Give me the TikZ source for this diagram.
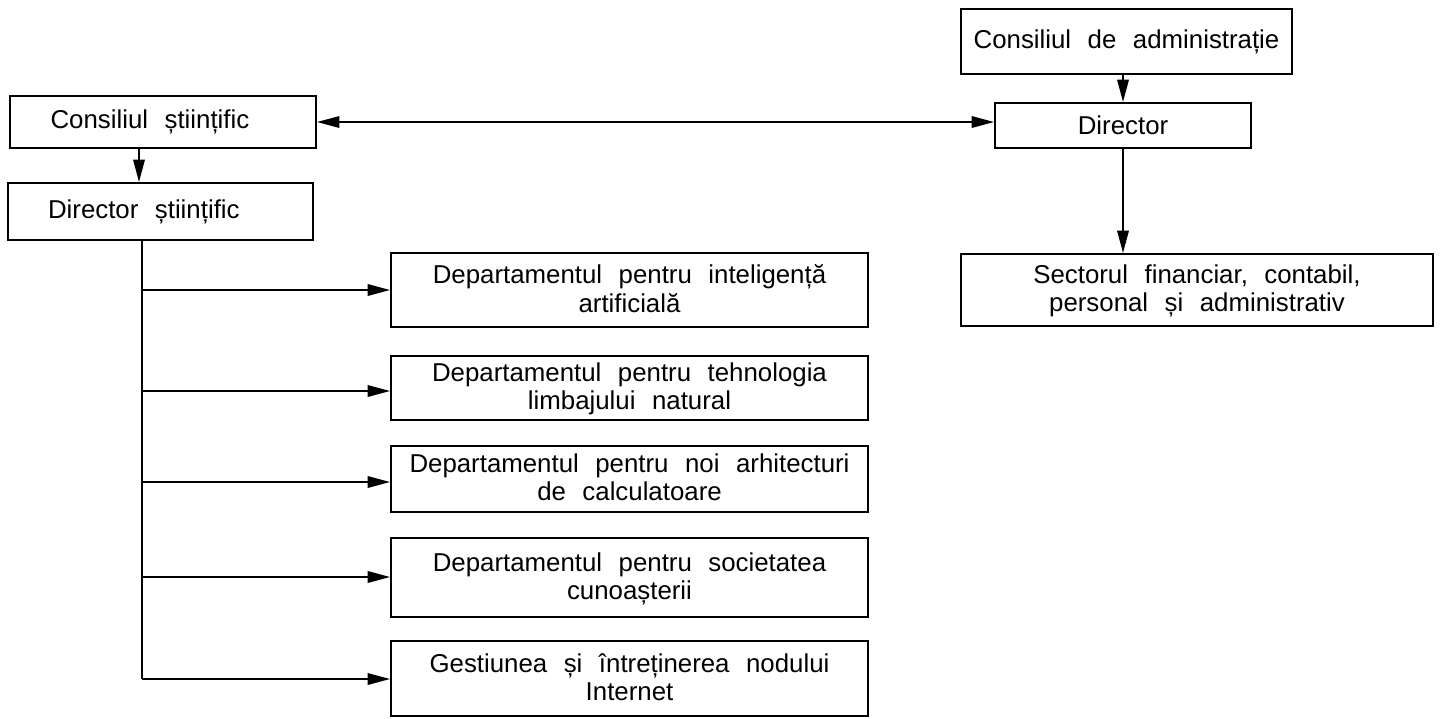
\documentclass[tikz,border=0pt]{standalone}
\usepackage{fontspec}
\setmainfont{Liberation Sans}[WordSpace=2.3]
\usetikzlibrary{arrows.meta}
\begin{document}
\begin{tikzpicture}[
        x=0.02cm, y=-0.02cm,
        box/.style={rectangle, draw=black, fill=white, line width=1.1pt, inner sep=2pt, align=center, font=\fontsize{14.7}{16}\selectfont},
        leftbox/.style={box, align=flush left, inner xsep=0.8cm, text width=4.5cm},
        twoline/.style={box, text depth=0.06cm},
        arr/.style={line width=1.1pt, -{Triangle[length=4.5mm,width=2.3mm]}},
        twoarr/.style={line width=1.1pt, {Triangle[length=4.5mm,width=2.3mm]}-{Triangle[length=4.5mm,width=2.3mm]}},
    ]
    \useasboundingbox (0,0) rectangle (1442,718);

    \node[leftbox, minimum width=6.12cm, minimum height=1.04cm] (consSt) at (163,122) {Consiliul științific};
    \node[leftbox, minimum width=6.1cm, minimum height=1.14cm] (dirSt) at (160.5,211.5) {Director științific};
    \node[box, minimum width=6.62cm, minimum height=1.3cm] (consAdm) at (1126.5,41.5) {Consiliul de administrație};
    \node[box, minimum width=5.12cm, minimum height=0.9cm] (dir) at (1123,125.5) {Director};
    \node[twoline, minimum width=9.44cm, minimum height=1.44cm] (sector) at (1197,290) {Sectorul financiar, contabil,\\ personal și administrativ};

    \node[twoline, minimum width=9.54cm, minimum height=1.48cm] (dep1) at (629.5,290) {Departamentul pentru inteligență\\ artificială};
    \node[twoline, minimum width=9.54cm, minimum height=1.28cm] (dep2) at (629.5,388) {Departamentul pentru tehnologia\\ limbajului natural};
    \node[twoline, minimum width=9.54cm, minimum height=1.32cm] (dep3) at (629.5,479) {Departamentul pentru noi arhitecturi\\ de calculatoare};
    \node[twoline, minimum width=9.54cm, minimum height=1.58cm] (dep4) at (629.5,577.5) {Departamentul pentru societatea\\ cunoașterii};
    \node[twoline, minimum width=9.54cm, minimum height=1.5cm] (dep5) at (629.5,678.5) {Gestiunea și întreținerea nodului\\ Internet};

    \coordinate (t1) at (142,290);
    \coordinate (t2) at (142,391);
    \coordinate (t3) at (142,482);
    \coordinate (t4) at (142,577);
    \coordinate (t5) at (142,679);

    \draw[twoarr] (consSt.east) -- (consSt.east -| dir.west);
    \draw[arr] ([xshift=-0.48cm]consSt.south) -- ([xshift=-0.48cm]consSt.south |- dirSt.north);
    \draw[arr] (consAdm.south -| dir.north) -- (dir.north);
    \draw[arr] (dir.south) -- (dir.south |- sector.north);

    \draw[line width=1.1pt] (dirSt.south -| t1) -- (t5);
    \draw[arr] (t1) -- (t1 -| dep1.west);
    \draw[arr] (t2) -- (t2 -| dep2.west);
    \draw[arr] (t3) -- (t3 -| dep3.west);
    \draw[arr] (t4) -- (t4 -| dep4.west);
    \draw[arr] (t5) -- (t5 -| dep5.west);
\end{tikzpicture}
\end{document}
